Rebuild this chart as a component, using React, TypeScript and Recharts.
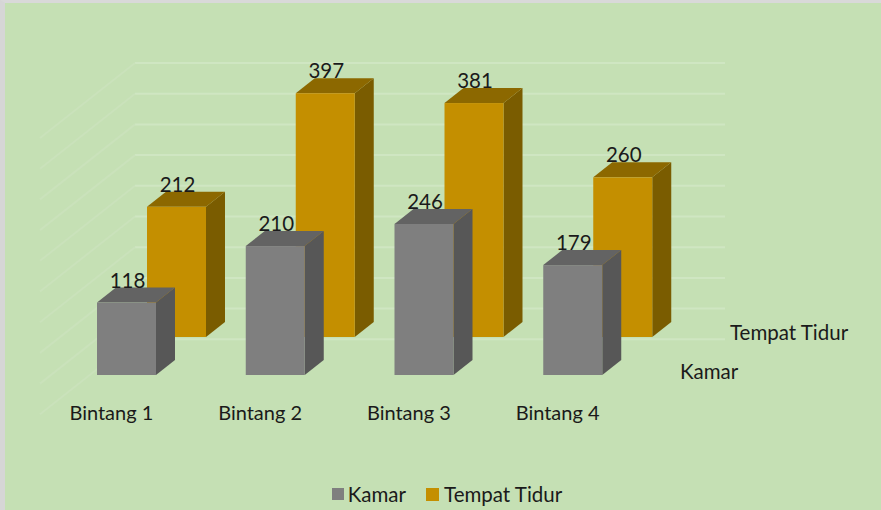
import React from "react";
import {
  BarChart,
  Bar,
  XAxis,
  YAxis,
  CartesianGrid,
  Legend,
  LabelList,
  Customized,
} from "recharts";

const categories = ["Bintang 1", "Bintang 2", "Bintang 3", "Bintang 4"];
const kamar = [118, 210, 246, 179];
const tempatTidur = [212, 397, 381, 260];
const gridTicks = [0, 50, 100, 150, 200, 250, 300, 350, 400, 450, 500];

const data = categories.map((name, i) => ({
  name,
  kamar: kamar[i],
  tempatTidur: tempatTidur[i],
}));

const FONT = "Lato, 'Open Sans', sans-serif";
const BG = "#c5e0b4";

// depth of a single box, and shift of the back row
const DEPTH_X = 19;
const DEPTH_Y = 15;
const ROW_X = 50;
const ROW_Y = -38;

const colors = {
  kamar: { front: "#7f7f7f", side: "#575757", top: "#636363" },
  tempatTidur: { front: "#c48f00", side: "#7a5c00", top: "#8c6800" },
};

function makeBox(c: { front: string; side: string; top: string }, sx: number, sy: number) {
  return (props: any) => {
    const x = props.x + sx;
    const y = props.y + sy;
    const w = props.width;
    const h = props.height;
    if (w == null || h == null) return <g />;
    return (
      <g>
        <polygon
          points={`${x + w},${y} ${x + w + DEPTH_X},${y - DEPTH_Y} ${x + w + DEPTH_X},${y + h - DEPTH_Y} ${x + w},${y + h}`}
          fill={c.side}
        />
        <polygon
          points={`${x},${y} ${x + DEPTH_X},${y - DEPTH_Y} ${x + w + DEPTH_X},${y - DEPTH_Y} ${x + w},${y}`}
          fill={c.top}
        />
        <rect x={x} y={y} width={w} height={h} fill={c.front} />
      </g>
    );
  };
}

function makeValueLabel(sx: number, sy: number) {
  return (props: any) => {
    const { x, y, width, value } = props;
    return (
      <text
        x={x + sx + width / 2 + 1}
        y={y + sy - DEPTH_Y}
        textAnchor="middle"
        fontFamily={FONT}
        fontSize={20.5}
        fill="#1a1a1a"
      >
        {value}
      </text>
    );
  };
}

const CategoryTick = (props: any) => {
  const { x, y, payload } = props;
  return (
    <text
      x={x - 15}
      y={y + 7}
      textAnchor="middle"
      fontFamily={FONT}
      fontSize={20}
      fill="#1a1a1a"
    >
      {payload.value}
    </text>
  );
};

const GridLine = (props: any) => {
  const { y1 } = props;
  if (props.index === 0) return <g />;
  const y = y1 - 5;
  return (
    <g>
      <line x1={130} y1={y} x2={720} y2={y} stroke="#cfe6c2" strokeWidth={2} />
      <line x1={130} y1={y} x2={35} y2={y + 75} stroke="#cae2bb" strokeWidth={2} />
    </g>
  );
};

const DepthLabels = () => (
  <g fontFamily={FONT} fontSize={20.5} fill="#1a1a1a">
    <text x={725} y={337}>
      Tempat Tidur
    </text>
    <text x={675} y={376}>
      Kamar
    </text>
  </g>
);

const LegendContent = () => (
  <div
    style={{
      height: 20,
      display: "flex",
      justifyContent: "center",
      alignItems: "center",
      fontFamily: FONT,
      fontSize: 20.5,
      color: "#1a1a1a",
    }}
  >
    <span style={{ width: 12, height: 12, background: colors.kamar.front, marginRight: 4, marginLeft: 8 }} />
    <span>Kamar</span>
    <span style={{ width: 13, height: 13, background: colors.tempatTidur.front, marginRight: 5, marginLeft: 20 }} />
    <span>Tempat Tidur</span>
  </div>
);

export default function App() {
  return (
    <div
      style={{
        position: "absolute",
        left: 0,
        top: 0,
        width: 876,
        height: 507,
        background: BG,
        borderTop: "3px solid #d9d9d9",
        borderLeft: "5px solid #d6d6d6",
      }}
    >
      <BarChart
        width={876}
        height={507}
        data={data}
        margin={{ top: 65, right: 234, left: 47, bottom: 85 }}
      >
        <CartesianGrid vertical={false} horizontal={GridLine} />
        <YAxis hide domain={[0, 500]} ticks={gridTicks} />
        <XAxis
          xAxisId="front"
          dataKey="name"
          height={30}
          axisLine={false}
          tickLine={false}
          tick={CategoryTick}
          interval={0}
        />
        <XAxis xAxisId="back" dataKey="name" hide />
        <Bar
          xAxisId="back"
          dataKey="tempatTidur"
          name="Tempat Tidur"
          barSize={59}
          shape={makeBox(colors.tempatTidur, ROW_X, ROW_Y)}
          isAnimationActive={false}
        >
          <LabelList dataKey="tempatTidur" content={makeValueLabel(ROW_X, ROW_Y)} />
        </Bar>
        <Bar
          xAxisId="front"
          dataKey="kamar"
          name="Kamar"
          barSize={59}
          shape={makeBox(colors.kamar, 0, 0)}
          isAnimationActive={false}
        >
          <LabelList dataKey="kamar" content={makeValueLabel(0, 0)} />
        </Bar>
        <Customized component={DepthLabels} />
        <Legend
          content={LegendContent}
          wrapperStyle={{ left: 0, width: 876, bottom: 6 }}
        />
      </BarChart>
    </div>
  );
}
